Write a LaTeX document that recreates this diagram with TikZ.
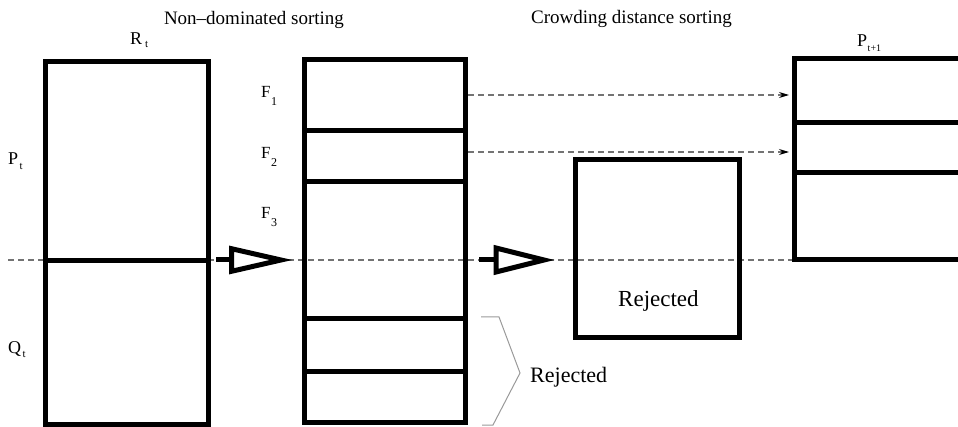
\documentclass[tikz,border=0pt]{standalone}
\usepackage{fontspec}
\setmainfont{Liberation Serif}
\usetikzlibrary{arrows.meta}
% small lowered subscript used in the population labels
\newcommand\lowsub[3][5]{\raisebox{-#1pt}{\fontsize{#2}{#2}\selectfont #3}}
\begin{document}
\begin{tikzpicture}[x=1pt,y=-1pt,
  pool/.style={draw=black, line width=5pt, inner sep=0pt, outer sep=0pt, anchor=north west},
  divider/.style={line width=5pt},
  guide/.style={draw=black!55, line width=1.2pt, dash pattern=on 6pt off 4pt},
  flow/.style={guide, -{Stealth[length=10pt,width=6pt,color=black]}},
  hollow/.style={line width=5pt, fill=white, line join=miter},
  lbl/.style={anchor=base west, inner sep=0pt, font=\fontsize{18}{18}\selectfont},
  title/.style={anchor=base, inner sep=0pt, font=\fontsize{19}{19}\selectfont},
  brace/.style={draw=black!40, line width=1pt}]
\useasboundingbox (0,0) rectangle (958,427);

% dashed split line between parents and offspring
\coordinate (gl) at (8,260);
\coordinate (gr) at (958,260);
\draw[guide] (gl) -- (gr);

% combined population R_t
\node[pool, minimum width=163pt, minimum height=362.5pt] (Rt) at (45,62) {};
\draw[divider] (45,261) -- (208,261);

% fronts after non-dominated sorting
\node[pool, minimum width=161.5pt, minimum height=362.5pt] (F) at (304,59.5) {};
\draw[divider] (304,131) -- (465.5,131);
\draw[divider] (304,182) -- (465.5,182);
\draw[divider] (304,319) -- (465.5,319);
\draw[divider] (304,371) -- (465.5,371);

% rejected part of the last front
\node[pool, minimum width=164pt, minimum height=178pt] (Rej) at (575,160) {};

% next population P_{t+1}
\node[pool, minimum width=171pt, minimum height=201.5pt] (Pn) at (794,58.5) {};
\draw[divider] (794,123) -- (965,123);
\draw[divider] (794,173) -- (965,173);

% fronts copied into the next population
\coordinate (f1) at (F.east |- 0,95);
\coordinate (f2) at (F.east |- 0,152);
\coordinate (p1) at (Pn.west |- 0,95);
\coordinate (p2) at (Pn.west |- 0,152);
\draw[flow, shorten <=2.5pt, shorten >=5pt] (f1) -- (p1);
\draw[flow, shorten <=2.5pt, shorten >=5pt] (f2) -- (p2);

% hollow process arrows
\draw[divider] (216,260) -- (231.5,260);
\draw[hollow] (231.5,248.7) -- (281,260) -- (231.5,271.3) -- cycle;
\draw[divider] (479,260) -- (496,260);
\draw[hollow] (496,248) -- (544,260) -- (496,272) -- cycle;

% brace grouping the discarded fronts
\draw[brace] (481,317) -- (499,317) -- (520,373) -- (493,425) -- (482,425);

% labels
\node[title] (t1) at (254,25) {Non--dominated sorting};
\node[title] (t2) at (631.5,24) {Crowding distance sorting};
\node[lbl] (lR) at (130,45) {R\kern3pt\lowsub[3]{11}{t}};
\node[lbl] (lP) at (8,165) {P\kern1.5pt\lowsub{11}{t}};
\node[lbl] (lQ) at (8,353) {Q\kern1.5pt\lowsub{11}{t}};
\node[lbl, font=\fontsize{17}{17}\selectfont] (lF1) at (261,98) {F\kern0.5pt\lowsub[8]{12}{1}};
\node[lbl, font=\fontsize{17}{17}\selectfont] (lF2) at (261,159) {F\kern0.5pt\lowsub[8]{12}{2}};
\node[lbl, font=\fontsize{17}{17}\selectfont] (lF3) at (261,219) {F\kern0.5pt\lowsub[8]{12}{3}};
\node[lbl] (lPn) at (857,47) {P\kern0.5pt\lowsub{10}{t+1}};
\node[lbl, font=\fontsize{23}{23}\selectfont] (rj1) at (618,307) {Rejected};
\node[lbl, font=\fontsize{22}{22}\selectfont] (rj2) at (530,382) {Rejected};
\end{tikzpicture}
\end{document}
